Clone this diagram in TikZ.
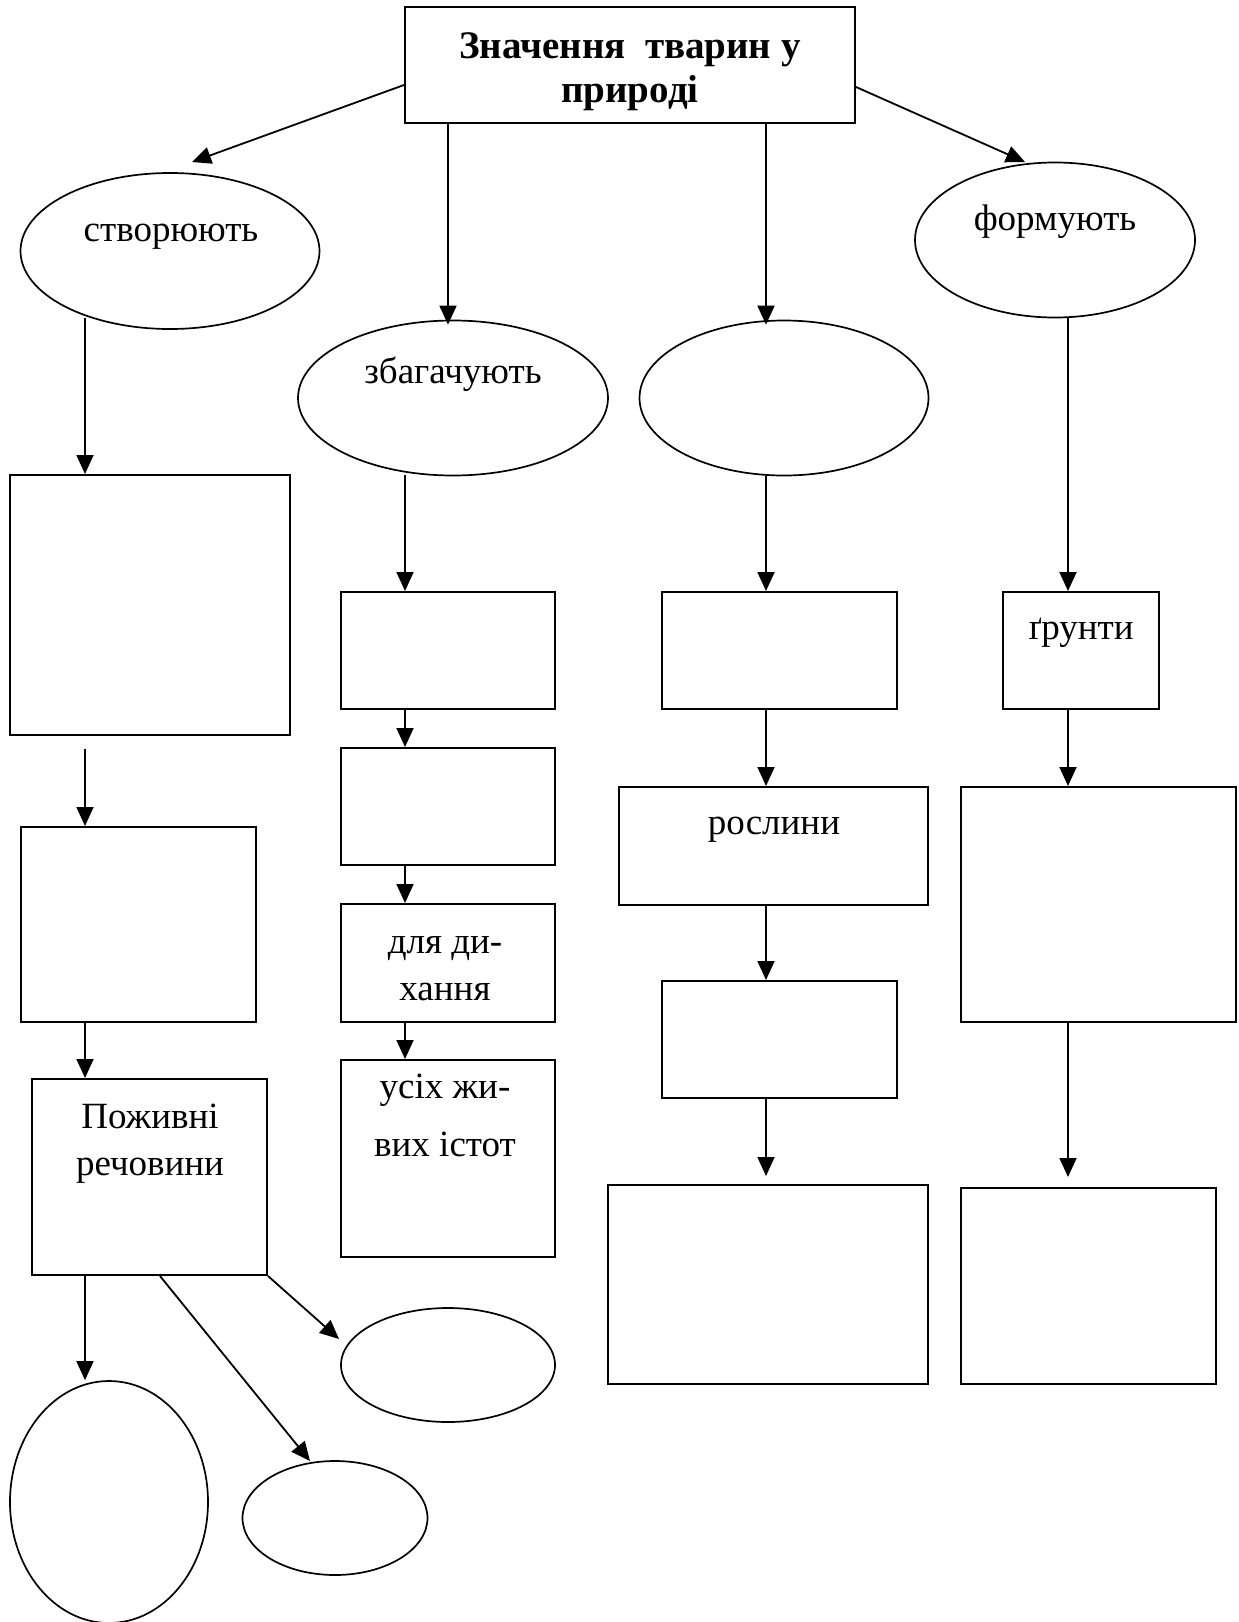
\documentclass[tikz,border=0pt]{standalone}
\usepackage{fontspec}
\setmainfont{Liberation Serif}
\usetikzlibrary{shapes.geometric,arrows.meta}
\begin{document}
\begin{tikzpicture}[x=1pt,y=-1pt,
  box/.style={draw, line width=2pt, rectangle, inner sep=0pt},
  oval/.style={draw, line width=1.7pt, ellipse, inner sep=0pt},
  lbl/.style={font=\fontsize{37}{44}\selectfont, anchor=base, inner sep=0pt},
  arr/.style={line width=1.8pt, -{Triangle[length=19pt,width=17pt]}},
]
\useasboundingbox[fill=white] (0,0) rectangle (1239,1622);

% title
\node[box, minimum width=450pt, minimum height=116pt] (top) at (630,65) {};
\node[lbl, font=\fontsize{39}{45}\selectfont\bfseries] (ttl1) at (630,58) {Значення\ \ тварин у};
\node[lbl, font=\fontsize{39}{45}\selectfont\bfseries] (ttl2) at (630,102) {природі};

% second row ovals
\node[oval, minimum width=299pt, minimum height=156pt] (e1) at (170,251) {};
\node[oval, minimum width=310pt, minimum height=155pt] (e2) at (453,398) {};
\node[oval, minimum width=289pt, minimum height=155pt] (e3) at (784,398) {};
\node[oval, minimum width=280pt, minimum height=155pt] (e4) at (1055,240) {};
\node[lbl] (t1) at (171,241) {створюють};
\node[lbl] (t2) at (453,383) {збагачують};
\node[lbl] (t4) at (1055,230) {формують};

% column 1
\node[box, minimum width=280pt, minimum height=260pt] (L1) at (150,605) {};
\node[box, minimum width=235pt, minimum height=195pt] (L2) at (138.5,924.5) {};
\node[box, minimum width=235pt, minimum height=196pt] (L3) at (149.5,1177) {};
\node[lbl] (tp1) at (150,1128) {Поживні};
\node[lbl] (tp2) at (150,1175) {речовини};
\node[oval, minimum width=198pt, minimum height=242pt] (f1) at (109,1502) {};
\node[oval, minimum width=185pt, minimum height=114pt] (f2) at (335,1518) {};
\node[oval, minimum width=214pt, minimum height=114pt] (f3) at (448,1365) {};

% column 2
\node[box, minimum width=214pt, minimum height=117pt] (B1) at (448,650.5) {};
\node[box, minimum width=214pt, minimum height=117pt] (B2) at (448,806.5) {};
\node[box, minimum width=214pt, minimum height=118pt] (B3) at (448,963) {};
\node[box, minimum width=214pt, minimum height=197pt] (B4) at (448,1158.5) {};
\node[lbl] (tb1) at (445,953) {для ди-};
\node[lbl] (tb2) at (445,1000) {хання};
\node[lbl] (tu1) at (445,1098) {усіх жи-};
\node[lbl] (tu2) at (445,1156) {вих істот};

% column 3
\node[box, minimum width=235pt, minimum height=117pt] (C1) at (779.5,650.5) {};
\node[box, minimum width=309pt, minimum height=118pt] (C2) at (773.5,846) {};
\node[box, minimum width=235pt, minimum height=117pt] (C3) at (779.5,1039.5) {};
\node[box, minimum width=320pt, minimum height=199pt] (C4) at (768,1284.5) {};
\node[lbl] (tr) at (774,834) {рослини};

% column 4
\node[box, minimum width=156pt, minimum height=117pt] (D1) at (1081,650.5) {};
\node[box, minimum width=275pt, minimum height=235pt] (D2) at (1098.5,904.5) {};
\node[box, minimum width=255pt, minimum height=196pt] (D3) at (1088.5,1286) {};
\node[lbl] (tg) at (1081,639) {ґрунти};

% connector guide points
\coordinate (c1) at (85,0);
\coordinate (c2) at (405,0);
\coordinate (c3) at (766,0);
\coordinate (c4) at (1068,0);
\coordinate (t2x) at (448,0);
\coordinate (a1s) at (405,85);
\coordinate (a1e) at (192,162);
\coordinate (a4s) at (855,87);
\coordinate (a4e) at (1025,162);
\coordinate (s1) at (85,318);
\coordinate (s2) at (405,475);
\coordinate (s3) at (766,476);
\coordinate (s4) at (1068,318);
\coordinate (p2s) at (160,1275);
\coordinate (p2e) at (310,1461);
\coordinate (p3e) at (339,1339);

% from the title
\draw[arr] (top.west |- a1s) -- (a1e);
\draw[arr] (top.east |- a4s) -- (a4e);
\draw[arr] (top.south -| t2x) -- ([yshift=-5pt]e2.north -| t2x);
\draw[arr] (top.south -| c3) -- ([yshift=-5pt]e3.north -| c3);

% column 1
\draw[arr] (s1) -- (L1.north -| s1);
\draw[arr, shorten <=13pt] (L1.south -| c1) -- (L2.north -| c1);
\draw[arr] (L2.south -| c1) -- (L3.north -| c1);
\draw[arr] (L3.south -| c1) -- (f1.north -| c1);
\draw[arr] (L3.south -| p2s) -- (p2e);
\draw[arr] (L3.south east) -- (p3e);

% column 2
\draw[arr] (s2) -- (B1.north -| s2);
\draw[arr] (B1.south -| c2) -- (B2.north -| c2);
\draw[arr] (B2.south -| c2) -- (B3.north -| c2);
\draw[arr] (B3.south -| c2) -- (B4.north -| c2);

% column 3
\draw[arr] (s3) -- (C1.north -| s3);
\draw[arr] (C1.south -| c3) -- (C2.north -| c3);
\draw[arr] (C2.south -| c3) -- (C3.north -| c3);
\draw[arr, shorten >=8pt] (C3.south -| c3) -- (C4.north -| c3);

% column 4
\draw[arr] (s4) -- (D1.north -| s4);
\draw[arr] (D1.south -| c4) -- (D2.north -| c4);
\draw[arr, shorten >=10pt] (D2.south -| c4) -- (D3.north -| c4);
\end{tikzpicture}
\end{document}
